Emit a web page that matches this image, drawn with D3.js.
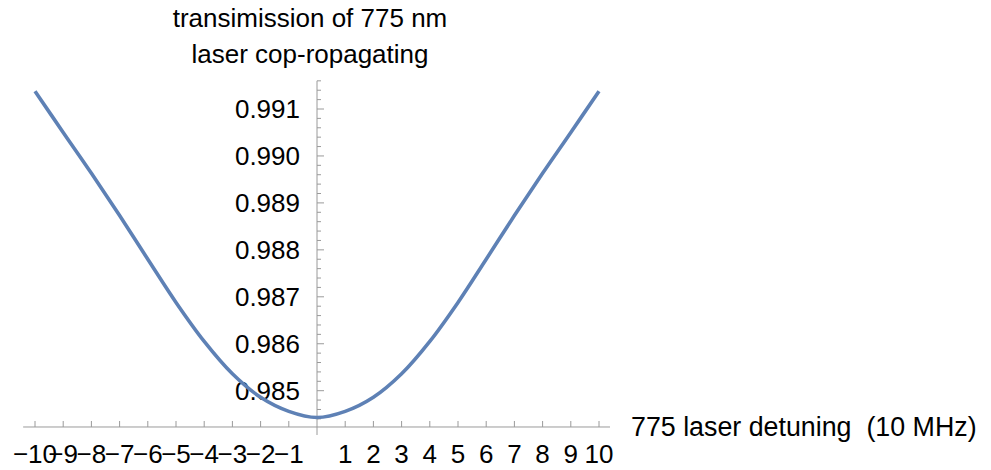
<!DOCTYPE html>
<html>
<head>
<meta charset="utf-8">
<script src="https://cdn.jsdelivr.net/npm/d3@7"></script>
<style>
  html, body { margin: 0; padding: 0; background: #fff; }
  svg { display: block; font-family: "Liberation Sans", Arial, sans-serif; }
</style>
</head>
<body>
<svg id="chart" width="991" height="470"></svg>
<script>
// Detuning of the 775 nm laser, in units of 10 MHz
const detuning = [-10, -9, -8, -7, -6, -5, -4, -3, -2, -1, 0, 1, 2, 3, 4, 5, 6, 7, 8, 9, 10];
// Co-propagating transmission at each detuning
const transmission = [
  0.99138, 0.99050, 0.98963, 0.98873, 0.98780, 0.98688, 0.98605, 0.98536, 0.98486, 0.98456,
  0.98443,
  0.98456, 0.98486, 0.98536, 0.98605, 0.98688, 0.98780, 0.98873, 0.98963, 0.99050, 0.99138
];
const xTickValues = [-10, -9, -8, -7, -6, -5, -4, -3, -2, -1, 1, 2, 3, 4, 5, 6, 7, 8, 9, 10];
const yTickValues = [0.985, 0.986, 0.987, 0.988, 0.989, 0.990, 0.991];
const yAxisTitle = ["transimission of 775 nm", "laser cop-ropagating"];
const xAxisTitle = "775 laser detuning  (10 MHz)";

const svg = d3.select("#chart");
const fontSize = 26;
const axisColor = "#9a9a9a";
const lineColor = "#5e81b5";

const x = d3.scaleLinear().domain([-10, 10]).range([35, 599]);
const y = d3.scaleLinear().domain([0.985, 0.991]).range([390.7, 109]);

const xAxisY = y(0.984227);
const yAxisX = x(0);

// Axis lines
svg.append("line")
  .attr("x1", x(-10.42)).attr("x2", x(10.39))
  .attr("y1", xAxisY).attr("y2", xAxisY)
  .attr("stroke", axisColor).attr("stroke-width", 1);
svg.append("line")
  .attr("x1", yAxisX).attr("x2", yAxisX)
  .attr("y1", y(0.9916)).attr("y2", xAxisY + 8)
  .attr("stroke", axisColor).attr("stroke-width", 1);

// X ticks (pointing up into the plot)
svg.append("g").selectAll("line").data(xTickValues).join("line")
  .attr("x1", d => x(d)).attr("x2", d => x(d))
  .attr("y1", xAxisY).attr("y2", xAxisY - 6)
  .attr("stroke", axisColor).attr("stroke-width", 1);

svg.append("g").selectAll("text").data(xTickValues).join("text")
  .attr("x", d => x(d)).attr("y", 463)
  .attr("text-anchor", "middle")
  .attr("font-size", fontSize)
  .attr("fill", "#000")
  .text(d => d < 0 ? "\u2212" + Math.abs(d) : String(d));

// Y ticks: majors and minors (pointing right into the plot)
const minorTicks = d3.range(0, 37).map(i => 0.9844 + i * 0.0002)
  .filter(v => !yTickValues.some(t => Math.abs(t - v) < 1e-7));

svg.append("g").selectAll("line").data(minorTicks).join("line")
  .attr("x1", yAxisX).attr("x2", yAxisX + 4)
  .attr("y1", d => y(d)).attr("y2", d => y(d))
  .attr("stroke", axisColor).attr("stroke-width", 1);

svg.append("g").selectAll("line").data(yTickValues).join("line")
  .attr("x1", yAxisX).attr("x2", yAxisX + 7)
  .attr("y1", d => y(d)).attr("y2", d => y(d))
  .attr("stroke", axisColor).attr("stroke-width", 1);

svg.append("g").selectAll("text").data(yTickValues).join("text")
  .attr("x", 300).attr("y", d => y(d) + 9.3)
  .attr("text-anchor", "end")
  .attr("font-size", fontSize)
  .attr("fill", "#000")
  .text(d => d3.format(".3f")(d));

// Axis titles
svg.append("g").selectAll("text").data(yAxisTitle).join("text")
  .attr("x", 310).attr("y", (d, i) => 27 + i * 36)
  .attr("text-anchor", "middle")
  .attr("font-size", fontSize)
  .attr("fill", "#000")
  .text(d => d);

svg.append("text")
  .attr("x", 631).attr("y", 436)
  .attr("font-size", 26.8)
  .attr("fill", "#000")
  .style("white-space", "pre")
  .text(xAxisTitle);

// Transmission curve
const line = d3.line()
  .x((d, i) => x(detuning[i]))
  .y(d => y(d))
  .curve(d3.curveCatmullRom.alpha(0.5));

svg.append("path")
  .datum(transmission)
  .attr("d", line)
  .attr("fill", "none")
  .attr("stroke", lineColor)
  .attr("stroke-width", 3.6)
  .attr("stroke-linejoin", "round");
</script>
</body>
</html>
